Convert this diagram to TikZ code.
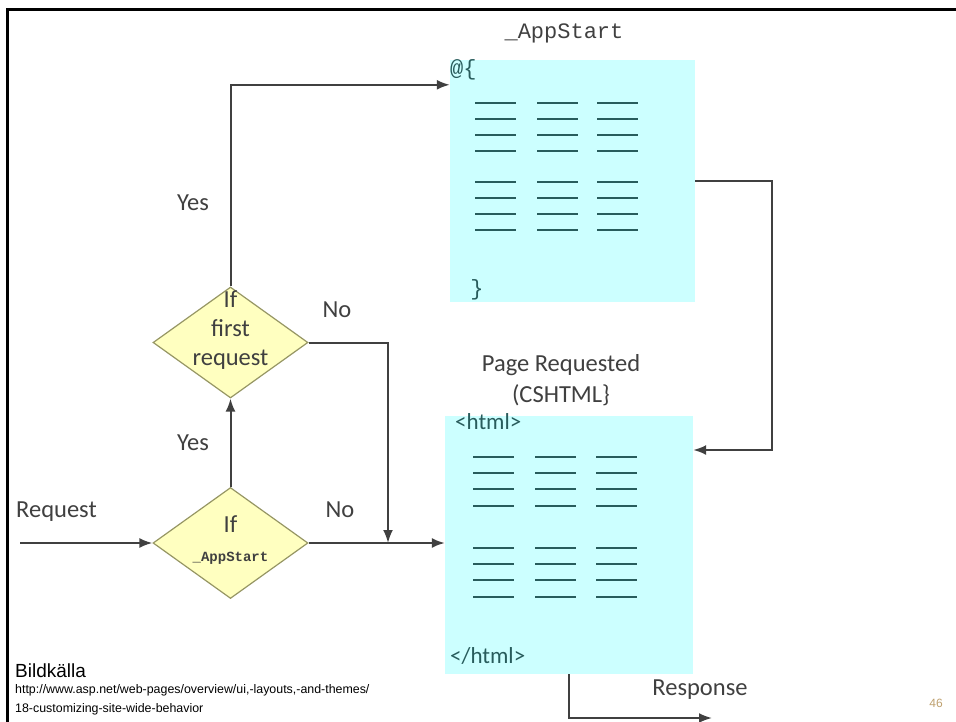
\documentclass[tikz,border=0pt]{standalone}
\usepackage{fontspec}
\setmainfont{Carlito}
\newfontfamily\arialfont{Liberation Sans}
\newfontfamily\courierfont{Liberation Mono}
\usetikzlibrary{shapes.geometric,arrows.meta}

\definecolor{codecyan}{RGB}{204,255,255}
\definecolor{codeteal}{RGB}{40,92,92}
\definecolor{decisionfill}{RGB}{255,255,192}
\definecolor{decisionedge}{RGB}{150,150,100}
\definecolor{flowgray}{RGB}{64,64,64}
\definecolor{pagetan}{RGB}{190,160,110}

\begin{document}
\begin{tikzpicture}[x=1pt, y=-1pt,
                        code box/.style={rectangle, fill=codecyan, inner sep=0pt},
                        decision/.style={diamond, draw=decisionedge, fill=decisionfill, line width=1.2pt,
                                         inner sep=0pt, minimum width=155pt, minimum height=111pt},
                        flow/.style={draw=flowgray, line width=2pt, -{Latex[length=13pt,width=10pt]}},
                        lbl/.style={text=flowgray, font=\fontsize{24.5}{29}\selectfont, inner sep=0pt},
                        code lbl/.style={text=codeteal, font=\fontsize{23}{26}\selectfont, inner sep=0pt},
                        text line/.style={draw=codeteal, line width=2.5pt}]

      \useasboundingbox (0,0) rectangle (956,722);
      \draw[line width=3.5pt] (7.5,722) -- (7.5,9.5) -- (956,9.5);

      % boxes
      \node[code box, minimum width=245pt, minimum height=242pt] (appstart) at (572.5,181) {};
      \node[code box, minimum width=248pt, minimum height=258pt] (page) at (569,545) {};

      \foreach \y in {103,119,135,151,182,198,214,230}
        \foreach \x in {475,537,597}
          \draw[text line] (\x,\y) -- ++(41,0);
      \foreach \y in {457,473,489,506,548,564,580,597}
        \foreach \x in {473,535,596}
          \draw[text line] (\x,\y) -- ++(41,0);

      \node[lbl, font=\courierfont\fontsize{22}{26}\selectfont] (apptitle) at (564,33) {\_AppStart};
      \node[code lbl, font=\courierfont\fontsize{22}{26}\selectfont, anchor=west] (open) at (450,70) {@\{};
      \node[code lbl, font=\courierfont\fontsize{22}{26}\selectfont] (close) at (477,290) {\}};
      \node[lbl] (pagetitle) at (561,365) {Page Requested};
      \node[lbl] (pagetype) at (561,395) {(CSHTML\}};
      \node[code lbl, anchor=west] (htmlopen) at (455,422) {<html>};
      \node[code lbl, anchor=west] (htmlclose) at (450,656) {</html>};

      % decisions
      \node[decision, label={[lbl, align=center, yshift=12pt]center:If\\first\\request}] (iffirst) at (230.5,342.5) {};
      \node[decision, label={[lbl, align=center, yshift=3pt]center:If\\{\courierfont\bfseries\fontsize{14}{16}\selectfont\_AppStart}}] (ifstart) at (230.5,543) {};

      \node[lbl] (yes1) at (193,203) {Yes};
      \node[lbl] (yes2) at (193,443) {Yes};
      \node[lbl] (no1) at (337,310) {No};
      \node[lbl] (no2) at (340,510) {No};
      \node[lbl, anchor=west] (request) at (16,512) {Request};
      \node[lbl] (response) at (700,690) {Response};

      \coordinate (in) at (20,543);
      \coordinate (merge) at (388,543);
      \coordinate (out) at (712,718);

      \draw[flow] (in) -- (ifstart.west);
      \draw[flow] (ifstart.north) -- (iffirst.south);
      \draw[flow] (iffirst.north) |- ([yshift=-25pt]appstart.north west);
      \draw[flow] (iffirst.east) -| (merge);
      \draw[flow] (ifstart.east) -- (page.west |- ifstart.east);
      \draw[flow] (appstart.east) -- ++(77,0) |- ([yshift=95pt]page.east);
      \draw[flow] (page.south) |- (out);

      % source
      \node[anchor=west, inner sep=0pt, font=\arialfont\fontsize{19}{22}\selectfont] (source) at (15,671) {Bildkälla};
      \node[anchor=west, inner sep=0pt, font=\arialfont\fontsize{12.4}{15}\selectfont] (url1) at (15,690) {http://www.asp.net/web-pages/overview/ui,-layouts,-and-themes/};
      \node[anchor=west, inner sep=0pt, font=\arialfont\fontsize{12.4}{15}\selectfont] (url2) at (15,709) {18-customizing-site-wide-behavior};
      \node[text=pagetan, inner sep=0pt, font=\arialfont\fontsize{12}{14}\selectfont] (pagenum) at (936,703) {46};

    \end{tikzpicture}
\end{document}
